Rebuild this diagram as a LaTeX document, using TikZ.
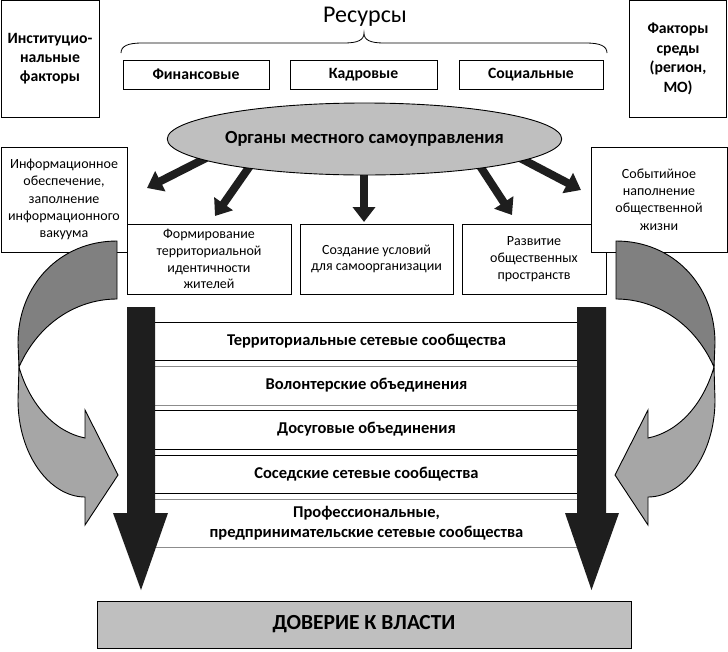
\documentclass[tikz,border=0pt]{standalone}
\usepackage{fontspec}
\setmainfont{Carlito}
\usetikzlibrary{arrows.meta,shapes.geometric}
\definecolor{ellfill}{HTML}{BFBFBF}
\definecolor{darkband}{HTML}{808080}
\definecolor{lightband}{HTML}{A6A6A6}
\definecolor{blk}{HTML}{1E1E1E}
\definecolor{grayline}{HTML}{8C8C8C}
\begin{document}
\begin{tikzpicture}[x=1pt,y=-1pt,
  box/.style={draw=black,line width=0.9pt,fill=white,inner sep=0pt,align=center},
  boldlbl/.style={font=\bfseries\fontsize{15.7}{19}\selectfont},
  smalllbl/.style={font=\fontsize{14}{16.8}\selectfont},
  infolbl/.style={font=\fontsize{14}{17.2}\selectfont},
  bandbox/.style={draw=black,line width=0.7pt,fill=white,inner sep=0pt,minimum width=451pt,align=center,font=\bfseries\fontsize{16.5}{20}\selectfont},
  fat/.style={draw=blk,line width=8pt,-{Triangle[length=15pt,width=22pt]}},
]
\useasboundingbox (0,0) rectangle (728,651);

% top factor boxes
\node[box,boldlbl,minimum width=98pt,minimum height=117pt] (inst) at (50,59)
  {Институцио-\\нальные\\факторы};
\node[box,minimum width=97pt,minimum height=117pt,font=\bfseries\fontsize{15.7}{19.5}\selectfont] (env) at (678,59)
  {Факторы\\среды\\(регион,\\МО)};

% resources
\node[font=\fontsize{24}{28}\selectfont] (res) at (365,17) {Ресурсы};
\draw[line width=0.8pt] (121,53) .. controls (121,46) and (128,43) .. (142,43) -- (344,43)
  .. controls (358,43) and (364,40) .. (364,33)
  .. controls (364,40) and (370,43) .. (384,43) -- (586,43)
  .. controls (600,43) and (607,46) .. (607,53);
\node[box,boldlbl,minimum width=146pt,minimum height=29pt] (fin) at (196,74.5) {Финансовые};
\node[box,boldlbl,minimum width=147pt,minimum height=29pt] (kad) at (363.5,74.5) {Кадровые};
\node[box,boldlbl,minimum width=144pt,minimum height=29pt] (soc) at (531,74.5) {Социальные};

% second row boxes
\node[box,infolbl,minimum width=126pt,minimum height=105pt] (info) at (64,199.5)
  {Информационное\\обеспечение,\\заполнение\\информационного\\вакуума};
\node[box,smalllbl,minimum width=164pt,minimum height=70pt] (form) at (209,259)
  {Формирование\\территориальной\\идентичности\\жителей};
\node[box,smalllbl,minimum width=153pt,minimum height=70pt] (cond) at (376.5,259)
  {Создание условий\\для самоорганизации};
\node[box,smalllbl,minimum width=144pt,minimum height=70pt] (dev) at (534,259)
  {Развитие\\общественных\\пространств};
\node[box,infolbl,minimum width=136pt,minimum height=105pt] (event) at (659,199.5)
  {Событийное\\наполнение\\общественной\\жизни};

% curved gray arrows
\begin{scope}[line width=0.9pt,draw=black]
  \filldraw[fill=lightband] (19,367) -- (18,400) .. controls (18,455) and (50,497) .. (85,497)
    -- (85,525) -- (118,475) -- (85,410) -- (85,438)
    .. controls (55,432) and (30,405) .. (19,367) -- cycle;
  \filldraw[fill=darkband] (117,241) .. controls (60,241) and (18,285) .. (18,343) -- (19,367)
    .. controls (40,320) and (80,299) .. (117,299) -- cycle;
\end{scope}
\begin{scope}[xshift=733pt,xscale=-1,line width=0.9pt,draw=black]
  \filldraw[fill=lightband] (19,367) -- (18,400) .. controls (18,455) and (50,497) .. (85,497)
    -- (85,525) -- (118,475) -- (85,410) -- (85,438)
    .. controls (55,432) and (30,405) .. (19,367) -- cycle;
  \filldraw[fill=darkband] (117,241) .. controls (60,241) and (18,285) .. (18,343) -- (19,367)
    .. controls (40,320) and (80,299) .. (117,299) -- cycle;
\end{scope}

% fat arrows from the ellipse
\coordinate (t1) at (208,157); \coordinate (h1) at (147,188);
\coordinate (t2) at (252,163); \coordinate (h2) at (215,216);
\coordinate (t3) at (364,168); \coordinate (h3) at (364,222);
\coordinate (t4) at (478,163); \coordinate (h4) at (512,215);
\coordinate (t5) at (520,158); \coordinate (h5) at (581,190);
\foreach \i in {1,...,5} { \draw[fat] (t\i) -- (h\i); }

\node[ellipse,draw=black,line width=0.9pt,fill=ellfill,minimum width=376pt,minimum height=72pt,inner sep=0pt,
  font=\bfseries\fontsize{18.5}{22}\selectfont] (org) at (364.5,139) {Органы местного самоуправления};

% bands
\node[bandbox,minimum height=38pt] (b1) at (366.5,341) {Территориальные сетевые сообщества};
\node[bandbox,minimum height=39pt,draw=grayline] (b2) at (366.5,385.5) {Волонтерские объединения};
\node[bandbox,minimum height=39pt] (b3) at (366.5,429.5) {Досуговые объединения};
\node[bandbox,minimum height=38pt] (b4) at (366.5,474) {Соседские сетевые сообщества};
\node[bandbox,minimum height=48pt,draw=grayline] (b5) at (366.5,523) {Профессиональные,\\предпринимательские сетевые сообщества};

% black vertical arrows
\fill[blk] (127,307) -- (155,307) -- (155,513) -- (168,513) -- (141,590) -- (113,513) -- (127,513) -- cycle;
\fill[blk] (577,307) -- (606,307) -- (606,513) -- (619,513) -- (591.5,590) -- (565,513) -- (577,513) -- cycle;

% trust box
\node[box,fill=ellfill,minimum width=534pt,minimum height=47pt,font=\bfseries\fontsize{21.5}{25}\selectfont] (trust) at (364,624.5) {ДОВЕРИЕ К ВЛАСТИ};
\end{tikzpicture}
\end{document}
